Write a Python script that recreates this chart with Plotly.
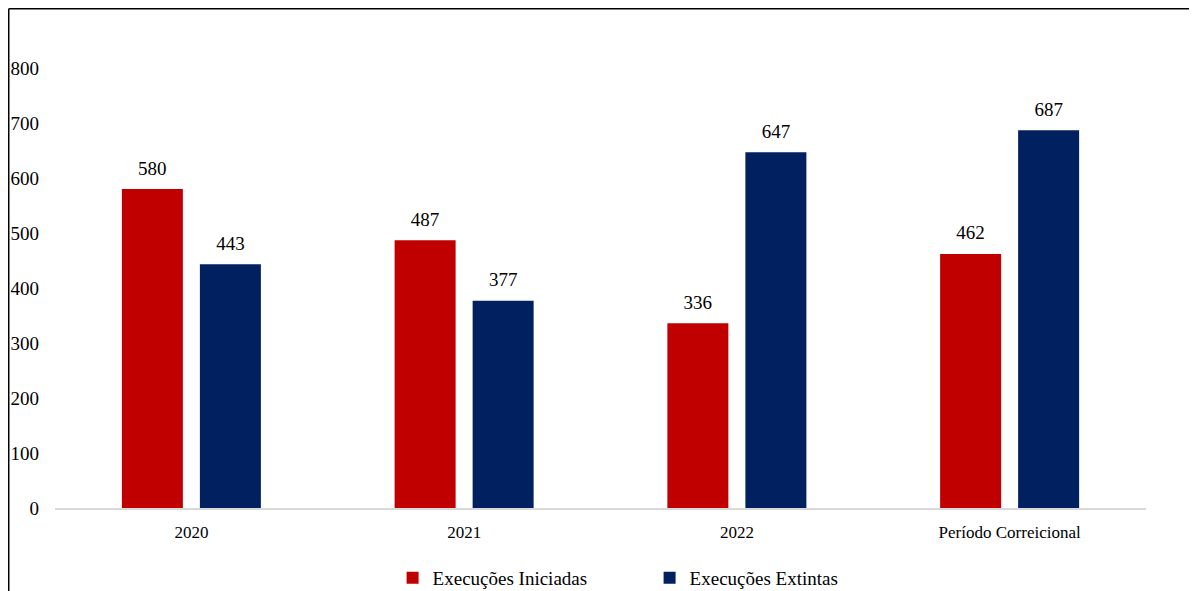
import plotly.graph_objects as go

categories = ["2020", "2021", "2022", "Período Correicional"]
iniciadas = [580, 487, 336, 462]
extintas = [443, 377, 647, 687]
series_names = ["Execuções Iniciadas", "Execuções Extintas"]
colors = ["#C00000", "#002060"]
y_ticks = [0, 100, 200, 300, 400, 500, 600, 700, 800]

FONT = "Liberation Serif, Times New Roman, serif"
BARGAP = 0.428

fig = go.Figure()
for name, vals, col in zip(series_names, [iniciadas, extintas], colors):
    fig.add_trace(go.Bar(
        x=categories, y=vals, name=name,
        marker=dict(color=col, line=dict(width=0)),
        hoverinfo="x+y",
    ))
# value labels, placed on the same grouped positions as the bars
for name, vals in zip(series_names, [iniciadas, extintas]):
    fig.add_trace(go.Scatter(
        x=categories, y=vals, mode="markers+text", showlegend=False,
        marker=dict(size=14, opacity=0, color="white"),
        text=[str(v) for v in vals], textposition="top center",
        textfont=dict(family=FONT, size=19, color="#000000"),
        cliponaxis=False, hoverinfo="skip",
    ))

fig.update_layout(
    width=1197, height=591,
    margin=dict(l=47, r=59, t=60, b=91),
    paper_bgcolor="white", plot_bgcolor="white",
    barmode="group", bargap=BARGAP, bargroupgap=0.218,
    scattermode="group", scattergap=BARGAP,
    font=dict(family=FONT, color="#000000"),
    showlegend=True,
    legend=dict(orientation="h", xref="container", yref="container",
                x=0.536, xanchor="center", y=0.0355, yanchor="middle",
                font=dict(family=FONT, size=19, color="#000000"),
                entrywidth=212, itemwidth=30, traceorder="normal"),
    xaxis=dict(showline=True, linecolor="#d9d9d9", linewidth=1.5, ticks="",
               ticklabelstandoff=8, automargin=False,
               tickfont=dict(family=FONT, size=17, color="#000000"), showgrid=False),
    yaxis=dict(range=[0, 800], tickvals=y_ticks, showgrid=False, zeroline=False, showline=False,
               ticks="", ticklabelstandoff=15, automargin=False,
               tickfont=dict(family=FONT, size=19, color="#000000")),
    shapes=[
        dict(type="line", xref="paper", yref="paper", x0=-0.0424, x1=-0.0424, y0=-0.4, y1=1.1347,
             line=dict(color="black", width=1.5)),
        dict(type="line", xref="paper", yref="paper", x0=-0.0424, x1=1.2, y0=1.1347, y1=1.1347,
             line=dict(color="black", width=1.5)),
    ],
)

fig.write_html("out.html")
